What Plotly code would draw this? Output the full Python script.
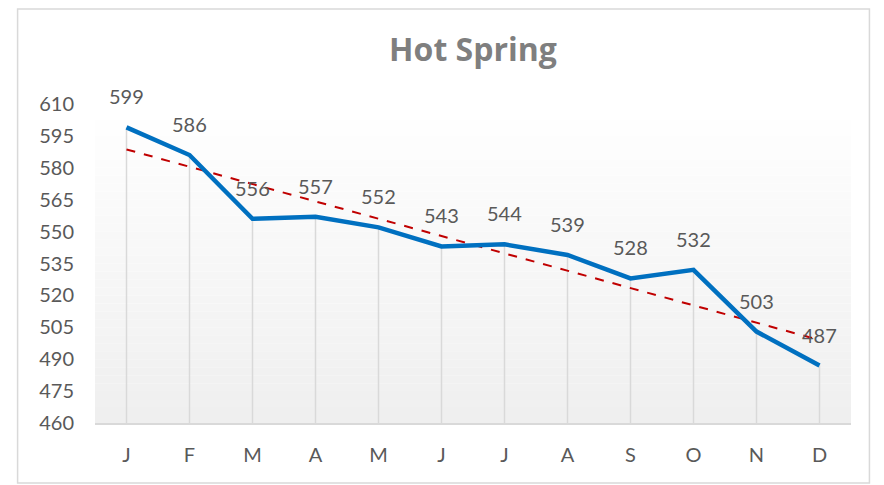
import numpy as np
import plotly.graph_objects as go

months = ["J", "F", "M", "A", "M", "J", "J", "A", "S", "O", "N", "D"]
values = [599, 586, 556, 557, 552, 543, 544, 539, 528, 532, 503, 487]
y_ticks = [460, 475, 490, 505, 520, 535, 550, 565, 580, 595, 610]

x = list(range(len(months)))
ymin, ymax = y_ticks[0], y_ticks[-1]

slope, intercept = np.polyfit(x, values, 1)
trend = [intercept + slope * i for i in x]

FONT = "Lato, 'Open Sans', sans-serif"
TXT = "#595959"

fig = go.Figure()

# drop lines
fig.add_trace(go.Scatter(
    x=x, y=values, mode="markers", marker=dict(size=1, opacity=0),
    error_y=dict(type="data", symmetric=False, array=[0] * len(values),
                 arrayminus=[v - ymin for v in values], color="#d9d9d9",
                 thickness=1.5, width=0),
    hoverinfo="skip", showlegend=False))

# trend line
fig.add_trace(go.Scatter(
    x=x, y=trend, mode="lines",
    line=dict(color="#c00000", width=2, dash="dash"), showlegend=False))

# main line
fig.add_trace(go.Scatter(
    x=x, y=values, mode="lines",
    line=dict(color="#0070c0", width=4.5), showlegend=False))

for xi, v in zip(x, values):
    fig.add_annotation(x=xi, y=v, text=str(v), showarrow=False, yshift=31,
                       font=dict(family=FONT, size=20, color=TXT))

shapes = []
# gradient plot area background
n = 40
for i in range(n):
    t = i / (n - 1)
    c = int(round(239 + (255 - 239) * t))
    shapes.append(dict(type="rect", xref="x domain", yref="y domain",
                       x0=0, x1=1, y0=i / n, y1=(i + 1) / n,
                       fillcolor=f"rgb({c},{c},{c})", line=dict(width=0),
                       layer="below"))
# chart border
shapes.append(dict(type="rect", xref="paper", yref="paper",
                   x0=-0.1024, x1=1.0244, y0=-0.188, y1=1.298,
                   line=dict(color="#d9d9d9", width=1.5), fillcolor="rgba(0,0,0,0)",
                   layer="below"))

W, H = 876, 477
fig.update_layout(
    width=W, height=H,
    margin=dict(l=86.5, r=32.5, t=96, b=62),
    paper_bgcolor="white", plot_bgcolor="white",
    title=dict(text="<b>Hot Spring</b>", x=0.5, xref="paper", xanchor="center",
               y=1 - 42 / H, yanchor="middle",
               font=dict(family="'Open Sans', sans-serif", size=32, color="#7f7f7f")),
    shapes=shapes,
    showlegend=False,
)
fig.update_xaxes(range=[-0.5, len(months) - 0.5], tickvals=x, ticktext=months,
                 showgrid=False, zeroline=False, showline=True,
                 linecolor="#d9d9d9", linewidth=1.5, ticks="",
                 ticklabelstandoff=13,
                 tickfont=dict(family=FONT, size=20, color=TXT))
fig.update_yaxes(range=[ymin, ymax], tickvals=y_ticks, showgrid=False,
                 zeroline=False, showline=False, ticks="",
                 ticklabelstandoff=20,
                 tickfont=dict(family=FONT, size=20, color=TXT))

fig.write_html("out.html")
